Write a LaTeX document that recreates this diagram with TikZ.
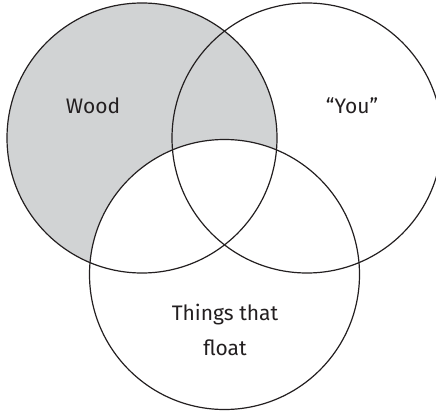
\documentclass[tikz,border=0pt]{standalone}
\usepackage{fontspec}
\setmainfont{Fira Sans}
\usetikzlibrary{positioning}
\definecolor{woodgray}{RGB}{209,211,212}
\definecolor{rimgray}{RGB}{35,31,32}

\begin{document}
\begin{tikzpicture}[x=1pt, y=1pt,
    set/.style={circle, draw=rimgray, line width=1.2pt, minimum size=270pt, inner sep=0pt},
    setlabel/.style={font=\fontsize{21}{35}\selectfont, text=rimgray, align=center}]
    \useasboundingbox (0,0) rectangle (436,413);
    \clip (0,0) rectangle (436,413);
    % shaded part: wood only
    \fill [woodgray] (142,275) circle (135pt);
    \fill [white] (224.5,138.5) circle (135pt);
    \node [set] (wood) at (142,275) {};
    \node [set] (you) at (307,275) {};
    \node [set] (float) at (224.5,138.5) {};
    \node [setlabel] (woodtext) at (93,307) {Wood};
    \node [setlabel] (youtext) at (352,307) {``You''};
    \node [setlabel] (floattext) at (225,83) {Things that\\float};
\end{tikzpicture}
\end{document}
